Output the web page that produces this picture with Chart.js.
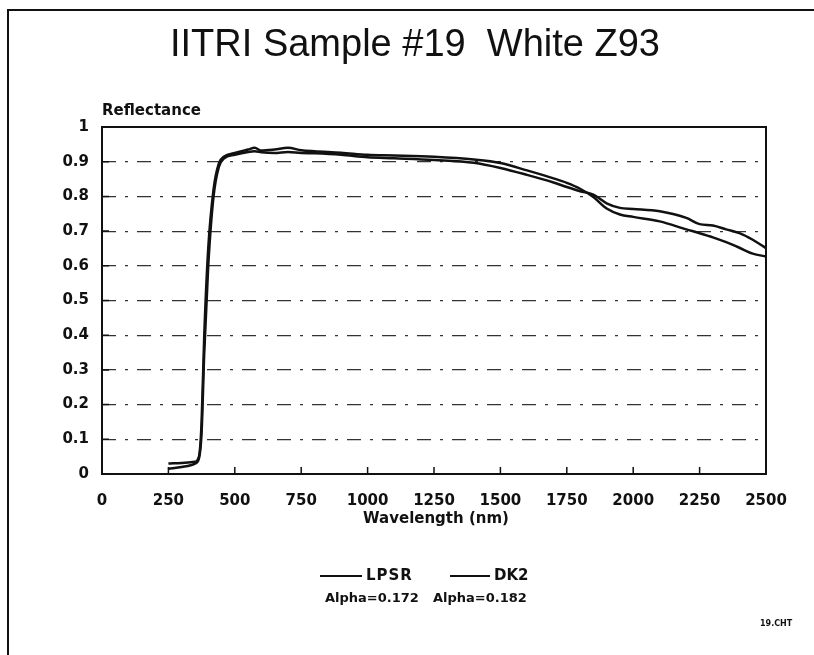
<!DOCTYPE html>
<html>
<head>
<meta charset="utf-8">
<script src="https://cdn.jsdelivr.net/npm/chart.js@4.4.0/dist/chart.umd.min.js"></script>
<style>
  body { margin: 0; background: #fff; }
  #wrap { position: relative; width: 814px; height: 655px; overflow: hidden; }
  #chart { position: absolute; left: 0; top: 0; }
  .frame-top { position: absolute; left: 7px; top: 9px; width: 807px; height: 2px; background: #111; }
  .frame-left { position: absolute; left: 7px; top: 9px; width: 2px; height: 646px; background: #111; }
  #title { position: absolute; left: 0; width: 830px; top: 22px; text-align: center;
           font-family: "Liberation Sans", Arial, sans-serif; font-size: 38px; color: #111; }
  .leg { position: absolute; font-family: "DejaVu Sans", sans-serif; font-weight: bold; font-size: 15px; color: #111; }
  .alpha { position: absolute; font-family: "DejaVu Sans", sans-serif; font-weight: bold; font-size: 13px; color: #111; }
  .sw { position: absolute; height: 2px; background: #111; }
  #foot { position: absolute; left: 760px; top: 619px; font-family: "DejaVu Sans", sans-serif;
          font-weight: bold; font-size: 8px; color: #111; }
</style>
</head>
<body>
<div id="wrap">
  <canvas id="chart" width="814" height="655"></canvas>
  <div class="frame-top"></div>
  <div class="frame-left"></div>
  <div id="title">IITRI Sample #19&nbsp;&nbsp;White Z93</div>
  <div class="sw" style="left:320px; top:575px; width:42px;"></div>
  <div class="leg" style="left:366px; top:566px; letter-spacing:1px;">LPSR</div>
  <div class="sw" style="left:450px; top:575px; width:40px;"></div>
  <div class="leg" style="left:494px; top:566px;">DK2</div>
  <div class="alpha" style="left:325px; top:590px;">Alpha=0.172</div>
  <div class="alpha" style="left:433px; top:590px;">Alpha=0.182</div>
  <div id="foot">19.CHT</div>
</div>
<script>
// Données
const wavelengths = [250, 300, 350, 365, 375, 385, 400, 420, 440, 460, 500, 550, 575, 600, 650, 700, 750, 800,
                     900, 1000, 1100, 1250, 1400, 1500, 1600, 1700, 1750, 1800, 1850, 1900, 1950, 2000,
                     2100, 2200, 2250, 2300, 2350, 2400, 2450, 2500];
const lpsr = [0.030, 0.032, 0.035, 0.05, 0.15, 0.40, 0.65, 0.82, 0.895, 0.915, 0.925, 0.935, 0.940, 0.932, 0.935, 0.940, 0.933, 0.930,
              0.926, 0.920, 0.918, 0.914, 0.906, 0.896, 0.875, 0.852, 0.839, 0.822, 0.798, 0.765, 0.748, 0.741,
              0.728, 0.705, 0.694, 0.682, 0.668, 0.652, 0.635, 0.627];
const dk2 = [0.015, 0.020, 0.030, 0.045, 0.12, 0.35, 0.60, 0.80, 0.885, 0.910, 0.920, 0.928, 0.930, 0.927, 0.925, 0.928, 0.925, 0.924,
             0.920, 0.913, 0.910, 0.905, 0.897, 0.882, 0.862, 0.840, 0.827, 0.815, 0.805, 0.780, 0.767, 0.764,
             0.757, 0.738, 0.720, 0.716, 0.705, 0.694, 0.675, 0.651];
const xTicks = [0, 250, 500, 750, 1000, 1250, 1500, 1750, 2000, 2250, 2500];
const yTicks = [0, 0.1, 0.2, 0.3, 0.4, 0.5, 0.6, 0.7, 0.8, 0.9, 1];

const toPoints = (ys) => wavelengths.map((w, i) => ({ x: w, y: ys[i] }));

// Cadre, petites graduations internes et titres des axes
const framePlugin = {
    id: 'frame',
    afterDraw(chart) {
        const c = chart.ctx;
        const a = chart.chartArea;
        const xs = chart.scales.x;
        const ys = chart.scales.y;
        c.save();
        c.strokeStyle = '#111';
        c.lineWidth = 2;
        c.strokeRect(a.left, a.top, a.right - a.left, a.bottom - a.top);
        c.lineWidth = 1.5;
        c.beginPath();
        xTicks.forEach(v => {
            const px = xs.getPixelForValue(v);
            c.moveTo(px, a.bottom);
            c.lineTo(px, a.bottom - 7);
        });
        yTicks.forEach(v => {
            const py = ys.getPixelForValue(v);
            c.moveTo(a.left, py);
            c.lineTo(a.left + 7, py);
        });
        c.stroke();
        c.fillStyle = '#111';
        c.font = 'bold 15px "DejaVu Sans"';
        c.textBaseline = 'bottom';
        c.fillText('Reflectance', a.left, a.top - 8);
        c.textAlign = 'center';
        c.textBaseline = 'middle';
        c.fillText('Wavelength (nm)', (a.left + a.right) / 2 + 2, a.bottom + 45);
        c.restore();
    }
};

const ctx = document.getElementById('chart').getContext('2d');
new Chart(ctx, {
    type: 'line',
    data: {
        datasets: [{
            label: 'LPSR',
            data: toPoints(lpsr),
            borderColor: '#111',
            borderWidth: 2.5,
            pointRadius: 0,
            cubicInterpolationMode: 'monotone'
        }, {
            label: 'DK2',
            data: toPoints(dk2),
            borderColor: '#111',
            borderWidth: 2.5,
            pointRadius: 0,
            cubicInterpolationMode: 'monotone'
        }]
    },
    options: {
        responsive: false,
        animation: false,
        devicePixelRatio: 1,
        layout: { padding: { left: 0, top: 127, right: 48, bottom: 0 } },
        plugins: { legend: { display: false }, tooltip: { enabled: false } },
        scales: {
            x: {
                type: 'linear',
                min: 0,
                max: 2500,
                afterFit: s => { s.height = 181; },
                afterBuildTicks: s => { s.ticks = xTicks.map(v => ({ value: v })); },
                grid: { display: false },
                border: { display: false },
                ticks: {
                    color: '#111',
                    padding: 10,
                    maxRotation: 0,
                    callback: v => String(v),
                    font: { family: 'DejaVu Sans', weight: 'bold', size: 15 }
                }
            },
            y: {
                min: 0,
                max: 1,
                afterFit: s => { s.width = 102; },
                afterBuildTicks: s => { s.ticks = yTicks.map(v => ({ value: v })); },
                border: { display: false, dash: [14, 9, 3, 9] },
                grid: {
                    drawTicks: false,
                    color: c => (c.tick && c.tick.value > 0.05 && c.tick.value < 0.95) ? '#333' : 'rgba(0,0,0,0)',
                    lineWidth: 1.2
                },
                ticks: {
                    color: '#111',
                    padding: 13,
                    callback: v => (v === 0 || v === 1) ? String(v) : v.toFixed(1),
                    font: { family: 'DejaVu Sans', weight: 'bold', size: 15 }
                }
            }
        }
    },
    plugins: [framePlugin]
});
</script>
</body>
</html>
